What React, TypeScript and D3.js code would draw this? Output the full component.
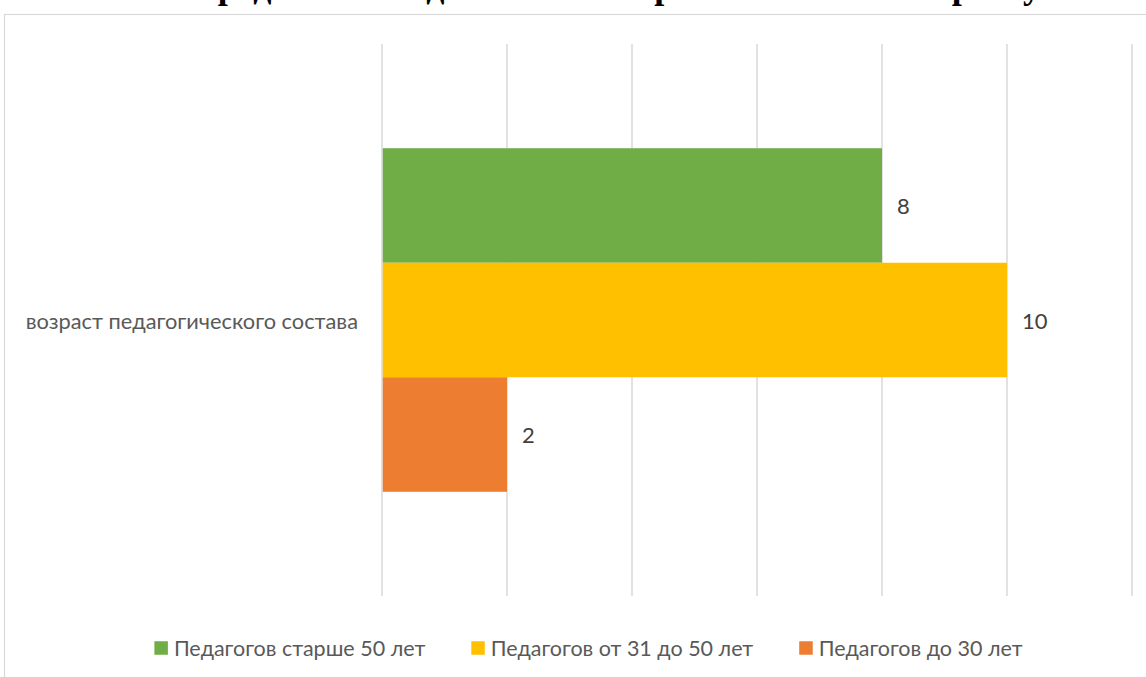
import React, { useEffect, useRef } from "react";
import * as d3 from "d3";

const title = "Распределение педагогических работников по возрасту";
const category = "возраст педагогического состава";
const seriesNames = ["Педагогов старше 50 лет", "Педагогов от 31 до 50 лет", "Педагогов до 30 лет"];
const seriesValues = [8, 10, 2];
const seriesColors = ["#70AD47", "#FFC000", "#ED7D31"];
const xTicks = [0, 2, 4, 6, 8, 10, 12];

const W = 1146;
const H = 677;

export default function App() {
  const ref = useRef<SVGSVGElement | null>(null);

  useEffect(() => {
    const svg = d3.select(ref.current);
    svg.selectAll("*").remove();

    const plot = { left: 382, right: 1132, top: 44, bottom: 596 };
    const x = d3.scaleLinear().domain([0, 12]).range([plot.left, plot.right]);
    const y = d3
      .scaleBand<string>()
      .domain(seriesNames)
      .range([plot.top, plot.bottom])
      .paddingInner(0)
      .paddingOuter(0.91);

    // title (cut off at the top, as in the reference)
    svg
      .append("text")
      .attr("x", 591)
      .attr("y", -2)
      .attr("text-anchor", "middle")
      .attr("font-family", "'Liberation Serif', 'Times New Roman', serif")
      .attr("font-weight", "bold")
      .attr("font-size", 36)
      .attr("fill", "#000")
      .text(title);

    // chart frame
    svg
      .append("rect")
      .attr("x", 4.5)
      .attr("y", 14.5)
      .attr("width", W + 20)
      .attr("height", H + 20)
      .attr("fill", "none")
      .attr("stroke", "#D9D9D9")
      .attr("stroke-width", 1.2);

    // gridlines
    svg
      .append("g")
      .selectAll("line")
      .data(xTicks)
      .join("line")
      .attr("x1", (d) => x(d))
      .attr("x2", (d) => x(d))
      .attr("y1", plot.top)
      .attr("y2", plot.bottom)
      .attr("stroke", "#D9D9D9")
      .attr("stroke-width", 1.5);

    // bars
    svg
      .append("g")
      .selectAll("rect")
      .data(seriesNames)
      .join("rect")
      .attr("x", x(0) + 0.75)
      .attr("y", (d) => y(d)!)
      .attr("width", (d, i) => x(seriesValues[i]) - x(0) - 0.75)
      .attr("height", y.bandwidth())
      .attr("fill", (d, i) => seriesColors[i]);

    // data labels
    svg
      .append("g")
      .selectAll("text")
      .data(seriesNames)
      .join("text")
      .attr("x", (d, i) => x(seriesValues[i]) + 15)
      .attr("y", (d) => y(d)! + y.bandwidth() / 2)
      .attr("dominant-baseline", "central")
      .attr("font-family", "Lato, 'Open Sans', sans-serif")
      .attr("font-size", 22)
      .attr("fill", "#404040")
      .text((d, i) => String(seriesValues[i]));

    // category label
    svg
      .append("text")
      .attr("x", plot.left - 24)
      .attr("y", (plot.top + plot.bottom) / 2)
      .attr("text-anchor", "end")
      .attr("dominant-baseline", "central")
      .attr("font-family", "Lato, 'Open Sans', sans-serif")
      .attr("font-size", 21.8)
      .attr("fill", "#595959")
      .text(category);

    // legend
    const lg = svg.append("g");
    const sq = 13.5;
    const items = lg.selectAll("g").data(seriesNames).join("g");
    items
      .append("rect")
      .attr("width", sq)
      .attr("height", sq)
      .attr("y", -sq / 2)
      .attr("fill", (d, i) => seriesColors[i]);
    items
      .append("text")
      .attr("x", sq + 6)
      .attr("dominant-baseline", "central")
      .attr("font-family", "Lato, 'Open Sans', sans-serif")
      .attr("font-size", 21.5)
      .attr("fill", "#595959")
      .text((d) => d);
    const widths: number[] = [];
    items.each(function () {
      const t = d3.select(this).select("text").node() as SVGTextElement;
      widths.push(sq + 6 + t.getComputedTextLength());
    });
    const gap = 46;
    const total = d3.sum(widths) + gap * (widths.length - 1);
    let cx = (153 + 1024) / 2 - total / 2;
    items.each(function (d, i) {
      d3.select(this).attr("transform", `translate(${cx},648)`);
      cx += widths[i] + gap;
    });
  }, []);

  return (
    <svg
      ref={ref}
      width={W}
      height={H}
      style={{ position: "absolute", left: 0, top: 0, background: "#fff" }}
    />
  );
}
